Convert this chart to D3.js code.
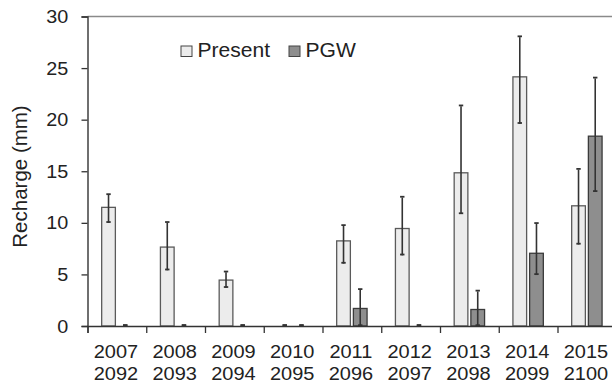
<!DOCTYPE html>
<html>
<head>
<meta charset="utf-8">
<script src="https://cdn.jsdelivr.net/npm/d3@7"></script>
<style>
  body { margin: 0; background: #fff; }
  text { font-family: "Liberation Sans", Arial, sans-serif; fill: #222; }
</style>
</head>
<body>
<div id="chart-area"></div>
<script>
// data
var yearsPresent = ['2007', '2008', '2009', '2010', '2011', '2012', '2013', '2014', '2015'];
var yearsPGW = ['2092', '2093', '2094', '2095', '2096', '2097', '2098', '2099', '2100'];
var series = ['Present', 'PGW'];
var presentMean = [11.5, 7.65, 4.45, 0, 8.25, 9.45, 14.85, 24.15, 11.65];
var presentLow = [10.0, 5.4, 3.7, 0, 6.05, 6.85, 10.85, 19.6, 7.9];
var presentHigh = [12.7, 10.0, 5.2, 0, 9.7, 12.45, 21.3, 28.0, 15.15];
var pgwMean = [0, 0, 0, 0, 1.7, 0, 1.6, 7.05, 18.4];
var pgwLow = [0, 0, 0, 0, 0, 0, 0, 4.95, 13.0];
var pgwHigh = [0, 0, 0, 0, 3.5, 0, 3.35, 9.9, 24.0];
var yTicks = [0, 5, 10, 15, 20, 25, 30];

var colors = { Present: '#ececec', PGW: '#8e8e8e' };

var W = 612, H = 384;
var plotLeft = 87.5, plotRight = 616.25, plotTop = 16.5, plotBottom = 326;

var svg = d3.select('#chart-area')
  .append('svg')
  .attr('width', W)
  .attr('height', H);

// scales
var y = d3.scaleLinear()
  .domain([0, 30])
  .range([plotBottom, plotTop]);

var x0 = d3.scaleBand()
  .domain(yearsPresent)
  .range([plotLeft, plotRight])
  .padding(0);

var bw = x0.bandwidth();
var x1 = d3.scaleBand()
  .domain(series)
  .range([bw / 2 - 15.2, bw / 2 + 15.2])
  .paddingInner(0.18);

var xEdges = d3.scaleLinear()
  .domain([0, yearsPresent.length])
  .range([plotLeft, plotRight]);

// build rows
var rows = yearsPresent.map(function(yr, i) {
  return [
    { year: yr, key: 'Present', v: presentMean[i], lo: presentLow[i], hi: presentHigh[i] },
    { year: yr, key: 'PGW', v: pgwMean[i], lo: pgwLow[i], hi: pgwHigh[i] }
  ];
});
var flat = d3.merge(rows);

// top frame line
svg.append('line')
  .attr('x1', plotLeft).attr('x2', W)
  .attr('y1', y(30)).attr('y2', y(30))
  .attr('stroke', '#8a8a8a')
  .attr('stroke-width', 1.3);

// bars
svg.append('g').selectAll('rect')
  .data(flat)
  .enter()
  .append('rect')
    .attr('x', function(d) { return x0(d.year) + x1(d.key); })
    .attr('y', function(d) { return y(d.v); })
    .attr('width', x1.bandwidth())
    .attr('height', function(d) { return y(0) - y(d.v); })
    .attr('fill', function(d) { return colors[d.key]; })
    .attr('stroke', function(d) { return d.key === 'PGW' ? '#3a3a3a' : '#5a5a5a'; })
    .attr('stroke-width', 1.3);

// error bars
var eb = svg.append('g').selectAll('g')
  .data(flat)
  .enter()
  .append('g')
    .attr('transform', function(d) {
      return 'translate(' + (x0(d.year) + x1(d.key) + x1.bandwidth() / 2) + ',0)';
    });

eb.append('line')
  .attr('y1', function(d) { return y(d.lo); })
  .attr('y2', function(d) { return y(d.hi); })
  .attr('stroke', '#333')
  .attr('stroke-width', 1.6);

eb.selectAll('.cap')
  .data(function(d) { return [d.lo, d.hi]; })
  .enter()
  .append('line')
    .attr('class', 'cap')
    .attr('x1', -2.2).attr('x2', 2.2)
    .attr('y1', function(v) { return y(v) - 0.8; })
    .attr('y2', function(v) { return y(v) - 0.8; })
    .attr('stroke', '#333')
    .attr('stroke-width', 1.8);

// Y Axis
var yAxis = svg.append('g')
  .attr('transform', 'translate(' + plotLeft + ',0)')
  .call(d3.axisLeft(y).tickValues(yTicks).tickSize(6).tickPadding(0));
yAxis.select('.domain').attr('stroke', '#333').attr('stroke-width', 1.4);
yAxis.selectAll('.tick line').attr('stroke', '#333').attr('stroke-width', 1.3);
yAxis.selectAll('.tick text')
  .attr('x', -19.2 / 1.1)
  .attr('dy', '0.34em')
  .attr('font-size', '18px')
  .attr('transform', 'scale(1.1,1)');

// X Axis ticks at category edges
var xTickAxis = svg.append('g')
  .attr('transform', 'translate(0,' + plotBottom + ')')
  .call(d3.axisBottom(xEdges)
    .tickValues(d3.range(0, yearsPresent.length + 1))
    .tickSize(7)
    .tickFormat(''));
xTickAxis.select('.domain').attr('stroke', '#333').attr('stroke-width', 1.4);
xTickAxis.selectAll('.tick line').attr('stroke', '#333').attr('stroke-width', 1.3);

// X labels (two lines)
var xLab = svg.append('g')
  .attr('transform', 'translate(-1,' + plotBottom + ')')
  .call(d3.axisBottom(x0).tickSize(0).tickPadding(0));
xLab.select('.domain').remove();
xLab.selectAll('.tick text')
  .attr('font-size', '18.5px')
  .attr('transform', 'scale(1.08,1)')
  .attr('y', 0)
  .attr('dy', null)
  .text(null)
  .each(function(d, i) {
    var t = d3.select(this);
    t.append('tspan').attr('x', 0).attr('y', 32.3).text(yearsPresent[i]);
    t.append('tspan').attr('x', 0).attr('y', 54).text(yearsPGW[i]);
  });

// Y label
svg.append('text')
  .attr('transform', 'translate(27,176.5) rotate(-90)')
  .attr('text-anchor', 'middle')
  .attr('font-size', '20.5px')
  .text('Recharge (mm)');

// legend
var legendPos = [181, 289];
var legend = svg.append('g').selectAll('g')
  .data(series)
  .enter()
  .append('g')
    .attr('transform', function(d, i) { return 'translate(' + legendPos[i] + ',46)'; });

legend.append('rect')
  .attr('width', 11).attr('height', 10.5)
  .attr('fill', function(d) { return colors[d]; })
  .attr('stroke', '#444')
  .attr('stroke-width', 1);

legend.append('text')
  .attr('transform', 'translate(16.5,11.3) scale(1.08,1)')
  .attr('font-size', '19.5px')
  .text(function(d) { return d; });
</script>
</body>
</html>
